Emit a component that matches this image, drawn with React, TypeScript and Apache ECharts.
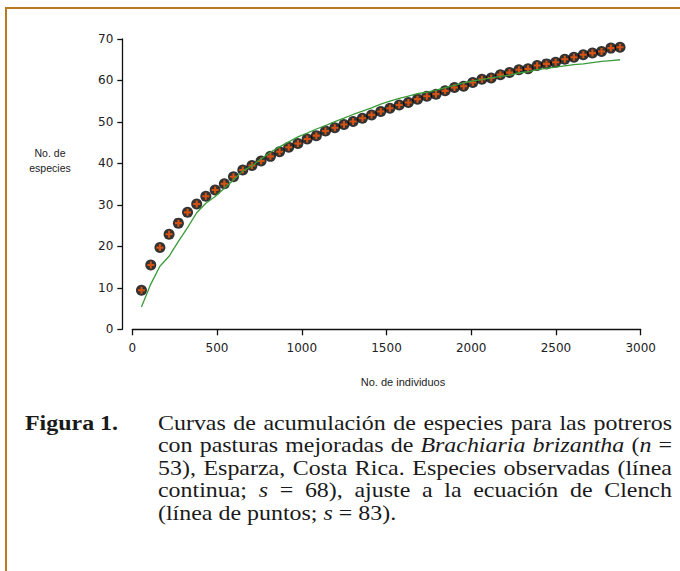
import React, { useEffect, useRef } from "react";
import * as echarts from "echarts";

// Individuals accumulated after each of the 53 sampled pastures
const individuals = [
  54, 109, 163, 217, 272, 326, 380, 434, 489, 543,
  597, 652, 706, 760, 815, 869, 923, 977, 1032, 1086,
  1140, 1195, 1249, 1303, 1358, 1412, 1466, 1520, 1575, 1629,
  1683, 1738, 1792, 1846, 1901, 1955, 2009, 2063, 2118, 2172,
  2226, 2281, 2335, 2389, 2444, 2498, 2552, 2606, 2661, 2715,
  2769, 2824, 2878,
];

// Species count drawn with markers
const speciesDots = [
  9.4, 15.5, 19.7, 22.9, 25.6, 28.2, 30.2, 32.1, 33.6, 35.1,
  36.8, 38.4, 39.5, 40.6, 41.7, 42.8, 43.9, 44.8, 45.9, 46.7,
  47.8, 48.6, 49.4, 50.1, 50.9, 51.7, 52.5, 53.3, 54.1, 54.7,
  55.5, 56.2, 56.7, 57.5, 58.3, 58.6, 59.5, 60.3, 60.6, 61.4,
  61.9, 62.6, 62.8, 63.6, 64.0, 64.4, 65.1, 65.6, 66.2, 66.6,
  67.0, 67.8, 68.0,
];

// Species count drawn as the green curve
const speciesCurve = [
  5.4, 10.9, 15.2, 17.6, 21.2, 24.5, 28.1, 30.4, 32.0, 34.0,
  36.0, 38.2, 39.4, 41.1, 42.7, 44.0, 45.2, 46.4, 47.3, 48.3,
  49.1, 50.1, 50.9, 51.8, 52.6, 53.4, 54.3, 55.0, 55.7, 56.2,
  56.8, 57.2, 57.7, 58.3, 58.8, 59.4, 59.9, 60.2, 60.6, 61.0,
  61.3, 61.8, 62.1, 62.6, 62.9, 63.2, 63.5, 63.8, 64.0, 64.3,
  64.6, 64.8, 65.0,
];

const xAxisRange = { min: 0, max: 3000, interval: 500 };
const yAxisRange = { min: 0, max: 70, interval: 10 };

const xAxisTitle = "No. de individuos";
const yAxisTitle = "No. de\nespecies";

// Caption; words wrapped in underscores are set in italics
const captionLabel = "Figura 1.";
const captionLines = [
  "Curvas de acumulación de especies para las potreros",
  "con pasturas mejoradas de _Brachiaria_ _brizantha_ (_n_ =",
  "53), Esparza, Costa Rica. Especies observadas (línea",
  "continua; _s_ = 68), ajuste a la ecuación de Clench",
  "(línea de puntos; _s_ = 83).",
];

const W = 680;
const H = 571;
const SERIF = "Liberation Serif";
const SANS = "Liberation Sans";
const TICK_FONT = "DejaVu Sans";
const CAP_SIZE = 21;
const CAP_SX = 1.14;
const CAP_LEFT = 158;
const CAP_RIGHT = 672;
const CAP_TOP = 423;
const CAP_STEP = 22.5;
const FRAME = "#b97a20";
const INK = "#1a1a1a";

type Seg = { t: string; i: boolean };

function parseWord(w: string): Seg[] {
  return w
    .split("_")
    .map((t, idx) => ({ t, i: idx % 2 === 1 }))
    .filter((s) => s.t.length > 0);
}

function buildCaption(): any[] {
  const ctx = document.createElement("canvas").getContext("2d")!;
  const fontOf = (italic: boolean, bold: boolean) =>
    `${italic ? "italic " : ""}${bold ? "bold " : ""}${CAP_SIZE}px ${SERIF}`;
  const measure = (t: string, italic: boolean, bold = false) => {
    ctx.font = fontOf(italic, bold);
    return ctx.measureText(t).width * CAP_SX;
  };
  const els: any[] = [];
  const textEl = (x: number, y: number, t: string, italic: boolean, bold: boolean) => ({
    type: "text",
    x,
    y,
    scaleX: CAP_SX,
    silent: true,
    style: {
      text: t,
      fill: INK,
      fontFamily: SERIF,
      fontSize: CAP_SIZE,
      fontStyle: italic ? "italic" : "normal",
      fontWeight: bold ? "bold" : "normal",
      textAlign: "left",
      verticalAlign: "middle",
    },
  });

  els.push(textEl(25, CAP_TOP, captionLabel, false, true));

  captionLines.forEach((line, li) => {
    const y = CAP_TOP + li * CAP_STEP;
    const words = line.split(" ").map(parseWord);
    const widths = words.map((segs) => segs.reduce((a, s) => a + measure(s.t, s.i), 0));
    const total = widths.reduce((a, b) => a + b, 0);
    const justify = li < captionLines.length - 1;
    const gap = justify
      ? (CAP_RIGHT - CAP_LEFT - total) / (words.length - 1)
      : measure(" ", false);
    let x = CAP_LEFT;
    words.forEach((segs) => {
      segs.forEach((s) => {
        els.push(textEl(x, y, s.t, s.i, false));
        x += measure(s.t, s.i);
      });
      x += gap;
    });
  });
  return els;
}

export default function App() {
  const ref = useRef<HTMLDivElement>(null);

  useEffect(() => {
    if (!ref.current) return;
    const chart = echarts.init(ref.current, undefined, { renderer: "svg" });

    const dotData = individuals.map((x, i) => [x, speciesDots[i]]);
    const curveData = individuals.map((x, i) => [x, speciesCurve[i]]);

    const axisLine = { show: true, onZero: false, lineStyle: { color: "#111", width: 1.3 } };
    const plain = (v: number) => String(v);

    chart.setOption({
      animation: false,
      backgroundColor: "#ffffff",
      grid: { left: 132.3, top: 39, width: 508.4, height: 290.3, containLabel: false },
      xAxis: {
        type: "value",
        ...xAxisRange,
        axisLine,
        axisTick: { show: true, length: 6, lineStyle: { color: "#111", width: 1.3 } },
        axisLabel: {
          margin: 13,
          color: "#222",
          fontFamily: TICK_FONT,
          fontSize: 12,
          formatter: plain,
        },
        splitLine: { show: false },
      },
      yAxis: {
        type: "value",
        ...yAxisRange,
        offset: 10,
        axisLine,
        axisTick: { show: true, length: 5, lineStyle: { color: "#111", width: 1.3 } },
        axisLabel: {
          margin: 9,
          color: "#222",
          fontFamily: TICK_FONT,
          fontSize: 12,
          formatter: plain,
        },
        splitLine: { show: false },
      },
      series: [
        {
          type: "scatter",
          data: dotData,
          symbol: "circle",
          symbolSize: 11,
          itemStyle: { color: "#000000" },
          silent: true,
          z: 2,
        },
        {
          type: "scatter",
          data: dotData,
          symbol: "path://M2.6,0h2.2v2.6h2.6v2.2h-2.6v2.6h-2.2v-2.6h-2.6v-2.2h2.6z",
          symbolSize: 7,
          itemStyle: { color: "#ff5a0a" },
          silent: true,
          z: 3,
        },
        {
          type: "line",
          data: curveData,
          showSymbol: false,
          symbol: "none",
          lineStyle: { color: "#3a9b3a", width: 1.3 },
          silent: true,
          z: 4,
        },
      ],
      graphic: [
        {
          type: "line",
          silent: true,
          shape: { x1: 5, y1: 8, x2: W, y2: 8 },
          style: { stroke: FRAME, lineWidth: 2 },
        },
        {
          type: "line",
          silent: true,
          shape: { x1: 6, y1: 7, x2: 6, y2: H },
          style: { stroke: FRAME, lineWidth: 2 },
        },
        {
          type: "text",
          x: 403,
          y: 382,
          silent: true,
          style: {
            text: xAxisTitle,
            fill: "#222",
            fontFamily: SANS,
            fontSize: 11,
            textAlign: "center",
            verticalAlign: "middle",
          },
        },
        {
          type: "text",
          x: 50,
          y: 160,
          silent: true,
          style: {
            text: yAxisTitle,
            fill: "#222",
            fontFamily: SANS,
            fontSize: 10.5,
            lineHeight: 15,
            textAlign: "center",
            verticalAlign: "middle",
          },
        },
        ...buildCaption(),
      ],
    });

    return () => chart.dispose();
  }, []);

  return (
    <div
      ref={ref}
      style={{ position: "absolute", left: 0, top: 0, width: W, height: H }}
    />
  );
}
